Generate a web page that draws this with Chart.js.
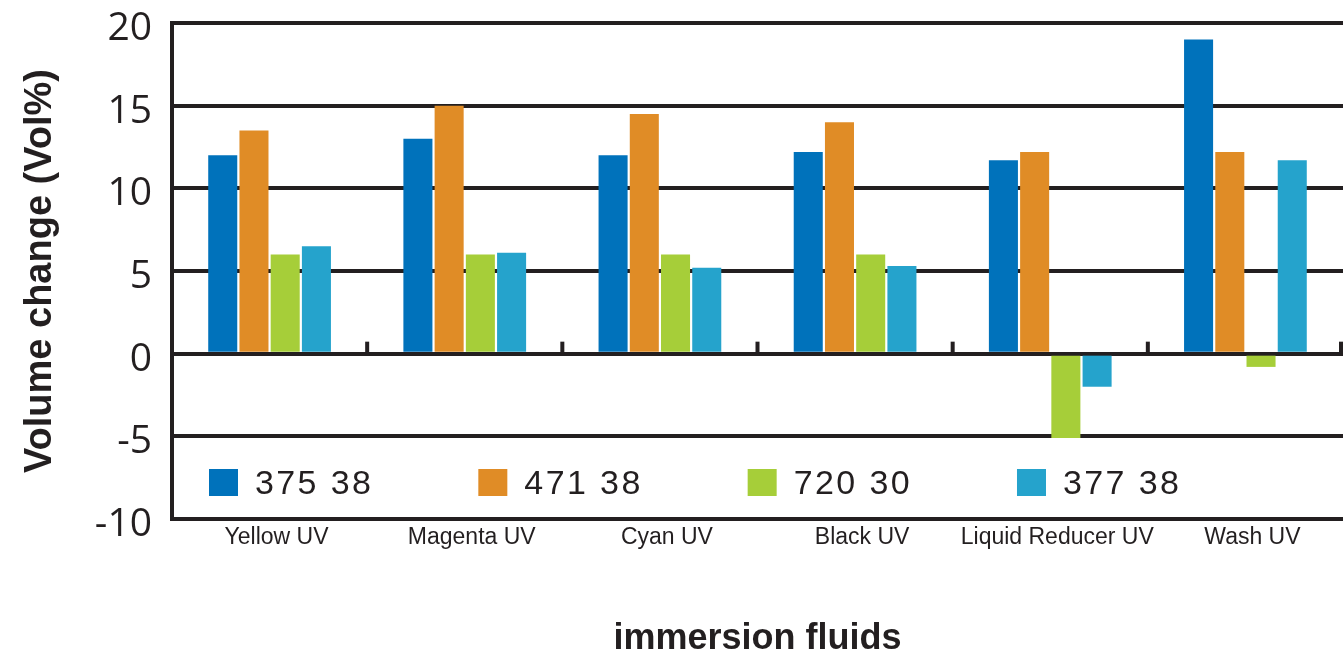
<!DOCTYPE html>
<html lang="en">
<head>
    <meta charset="UTF-8">
    <title>Volume change in immersion fluids</title>
    <script src="https://cdn.jsdelivr.net/npm/chart.js"></script>
    <style>
        body {
            margin: 0;
            padding: 0;
            background-color: #ffffff;
            overflow: hidden;
        }
        #wrap {
            position: relative;
            width: 1343px;
            height: 653px;
        }
    </style>
</head>
<body>
    <div id="wrap">
        <canvas id="volChart"></canvas>
    </div>

    <script>
        // data
        const categories = ['Yellow UV', 'Magenta UV', 'Cyan UV', 'Black UV', 'Liquid Reducer UV', 'Wash UV'];
        const seriesNames = ['375 38', '471 38', '720 30', '377 38'];
        const s375 = [12, 13, 12, 12.2, 11.7, 19];
        const s471 = [13.5, 15, 14.5, 14, 12.2, 12.2];
        const s720 = [6, 6, 6, 6, -5.1, -0.8];
        const s377 = [6.5, 6.1, 5.2, 5.3, -2.0, 11.7];
        const yTicks = [-10, -5, 0, 5, 10, 15, 20];

        const colors = ['#0072bb', '#e08c26', '#a6ce39', '#25a3cc'];
        const ink = '#231f20';

        // legend drawn inside the plot, plus the little ticks on the zero line
        const extras = {
            id: 'extras',
            afterDatasetsDraw(chart) {
                const ctx = chart.ctx;
                const area = chart.chartArea;
                const x = chart.scales.x;
                const y = chart.scales.y;
                const y0 = y.getPixelForValue(0);

                ctx.save();
                ctx.fillStyle = ink;
                for (let i = 1; i <= categories.length; i++) {
                    let bx;
                    if (i < categories.length) {
                        bx = (x.getPixelForValue(i - 1) + x.getPixelForValue(i)) / 2;
                    } else {
                        bx = area.right - 2;
                    }
                    ctx.fillRect(bx - 2, y0 - 12, 4, 12);
                }

                // legend row
                const step = area.width * 0.23;
                const top = area.bottom - 50;
                ctx.font = '34px "Liberation Sans"';
                ctx.letterSpacing = '2.4px';
                ctx.textBaseline = 'alphabetic';
                chart.data.datasets.forEach((ds, i) => {
                    const lx = area.left + 37 + i * step;
                    ctx.fillStyle = ds.backgroundColor;
                    ctx.fillRect(lx, top, 29, 27);
                    ctx.fillStyle = ink;
                    ctx.fillText(ds.label, lx + 46, top + 25);
                });
                ctx.restore();
            }
        };

        const ctx = document.getElementById('volChart').getContext('2d');
        const volChart = new Chart(ctx, {
            type: 'bar',
            data: {
                labels: categories,
                datasets: [
                    { label: seriesNames[0], data: s375, backgroundColor: colors[0] },
                    { label: seriesNames[1], data: s471, backgroundColor: colors[1] },
                    { label: seriesNames[2], data: s720, backgroundColor: colors[2] },
                    { label: seriesNames[3], data: s377, backgroundColor: colors[3] }
                ]
            },
            options: {
                responsive: true,
                maintainAspectRatio: false,
                animation: false,
                datasets: {
                    bar: {
                        categoryPercentage: 0.64,
                        barPercentage: 0.93,
                        borderWidth: 0
                    }
                },
                layout: {
                    padding: { top: 23, right: 0, bottom: 0, left: 0 }
                },
                plugins: {
                    legend: { display: false },
                    tooltip: { enabled: false }
                },
                scales: {
                    x: {
                        grid: { display: false, drawTicks: false, tickLength: 0 },
                        border: { display: true, color: ink, width: 4 },
                        ticks: {
                            color: ink,
                            padding: 5,
                            labelOffset: 7,
                            maxRotation: 0,
                            autoSkip: false,
                            font: { family: '"Liberation Sans"', size: 23 }
                        },
                        title: {
                            display: true,
                            text: 'immersion fluids',
                            color: ink,
                            padding: 0,
                            font: { family: '"Liberation Sans"', size: 36, weight: 'bold', lineHeight: 0.8 }
                        },
                        afterFit(scale) {
                            scale.height = 134;
                            scale.paddingLeft = 0;
                            scale.paddingRight = 0;
                        }
                    },
                    y: {
                        min: -10,
                        max: 20,
                        afterBuildTicks(scale) {
                            scale.ticks = yTicks.map(v => ({ value: v }));
                        },
                        grid: {
                            color: ink,
                            lineWidth: 4,
                            drawTicks: false
                        },
                        border: { display: true, color: ink, width: 4 },
                        ticks: {
                            color: ink,
                            padding: 20,
                            labelOffset: 6,
                            font: { family: '"Open Sans"', size: 39 }
                        },
                        title: {
                            display: true,
                            text: 'Volume change (Vol%)',
                            color: ink,
                            padding: { top: 18, bottom: 0 },
                            font: { family: '"Liberation Sans"', size: 38, weight: 'bold' }
                        },
                        afterFit(scale) {
                            scale.width = 172;
                            scale.paddingTop = 0;
                            scale.paddingBottom = 0;
                        }
                    }
                }
            },
            plugins: [extras]
        });
    </script>
</body>
</html>
